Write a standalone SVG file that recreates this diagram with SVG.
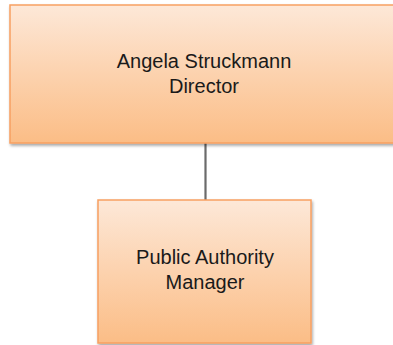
<svg xmlns="http://www.w3.org/2000/svg" width="393" height="345" viewBox="0 0 393 345">
  <defs>
    <linearGradient id="peach" x1="0" y1="0" x2="0" y2="1">
      <stop offset="0" stop-color="#fde8d8"/>
      <stop offset="0.5" stop-color="#fcd2ae"/>
      <stop offset="1" stop-color="#fbbd86"/>
    </linearGradient>
    <filter id="shadow" x="-10%" y="-10%" width="120%" height="125%">
      <feGaussianBlur in="SourceAlpha" stdDeviation="1.5"/>
      <feOffset dx="1" dy="2" result="b"/>
      <feComponentTransfer><feFuncA type="linear" slope="0.35"/></feComponentTransfer>
      <feMerge><feMergeNode/><feMergeNode in="SourceGraphic"/></feMerge>
    </filter>
  </defs>
  <style>
    .box { fill: url(#peach); stroke: #f7a062; stroke-width: 1.5; filter: url(#shadow); }
    .label { font-family: "Liberation Sans", Arial, sans-serif; font-size: 20px; fill: #1a1a1a; text-anchor: middle; }
    .link { stroke: #6b6b6b; stroke-width: 2.2; fill: none; }
  </style>
  <rect width="393" height="345" fill="#ffffff"/>

  <g id="connectors">
    <path class="link" d="M205.5 143 V200"/>
  </g>

  <g id="director">
    <rect class="box" x="10" y="5" width="390" height="138"/>
    <text class="label" x="204" y="68">Angela Struckmann</text>
    <text class="label" x="204" y="93">Director</text>
  </g>

  <g id="manager">
    <rect class="box" x="98" y="200" width="213" height="143"/>
    <text class="label" x="205" y="264">Public Authority</text>
    <text class="label" x="205" y="289">Manager</text>
  </g>
</svg>
